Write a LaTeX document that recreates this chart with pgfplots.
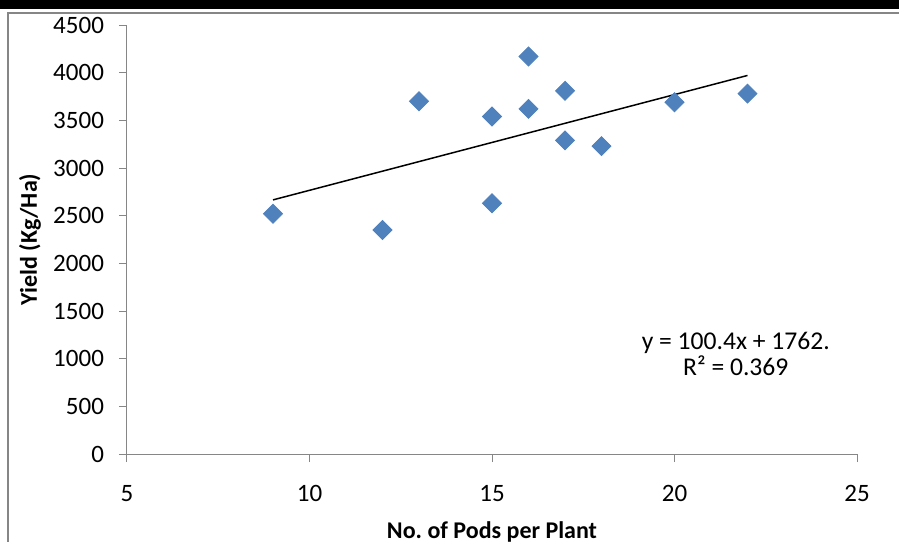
\documentclass[border=0pt]{standalone}
\usepackage{fontspec}
\setmainfont{Carlito}
\usepackage{pgfplots}
\pgfplotsset{compat=1.18}
\definecolor{xlblue}{HTML}{4F81BD}
\definecolor{xlgrey}{HTML}{868686}
\frenchspacing
\begin{document}
\begin{tikzpicture}
\useasboundingbox (-63.5pt,-44pt) rectangle (386pt,227pt);
\fill[black] (-63.5pt,222.5pt) rectangle (386pt,227pt);
\draw[xlgrey,line width=0.6pt] (386pt,220.5pt) -- (-59.5pt,220.5pt) -- (-59.5pt,-44pt);
\begin{axis}[scale only axis,width=365pt,height=214.5pt,
  xmin=5,xmax=25,ymin=0,ymax=4500,
  xtick={5,10,...,25},ytick={0,500,...,4500},
  axis lines=left,axis line style={-,xlgrey,line width=0.5pt},
  tick style={xlgrey,line width=0.5pt},tick align=outside,
  major tick length=4pt,
  font=\fontsize{12.5}{15}\selectfont,
  /pgf/number format/assume math mode=true,
  /pgf/number format/1000 sep={},
  xticklabel style={yshift=-8pt},
  yticklabel style={xshift=-4pt},
  xlabel={\fontsize{12}{14}\selectfont\textbf{No.\ of Pods per Plant}},
  ylabel={\fontsize{12}{14}\selectfont\textbf{Yield (Kg/Ha)}},
  xlabel style={at={(axis description cs:0.5,0)},anchor=center,yshift=-39pt},
  ylabel style={at={(axis description cs:0,0.5)},anchor=center,yshift=48.5pt},
  clip=false]
\addplot[only marks,mark=square*,mark size=3.35pt,
  mark options={rotate=45,fill=xlblue,draw=xlblue}] coordinates {
  (9,2520) (12,2350) (13,3700) (15,3540) (15,2630) (16,4170)
  (16,3620) (17,3810) (17,3290) (18,3230) (20,3690) (22,3780)};
\addplot[black,line width=0.75pt] coordinates {(9,2665.6) (22,3970.8)};
\node[align=center,font=\fontsize{12.8}{13}\selectfont] at (axis cs:21.68,1050)
  {y = 100.4x + 1762.\\R² = 0.369};
\end{axis}
\end{tikzpicture}
\end{document}
